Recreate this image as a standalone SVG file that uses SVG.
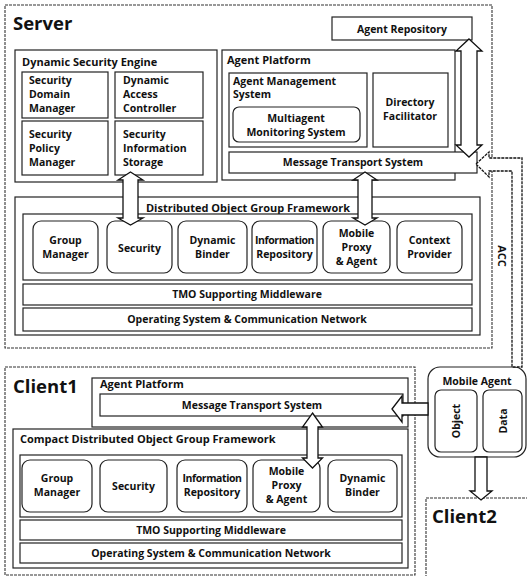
<svg xmlns="http://www.w3.org/2000/svg" width="527" height="576" viewBox="0 0 527 576">
<style>
.frame{fill:none;stroke:#333;stroke-width:1.1;stroke-dasharray:3 1}
.box{fill:#fff;stroke:#222;stroke-width:1.2}
.arr{fill:#fff;stroke:#111;stroke-width:1.3;stroke-linejoin:miter}
text{font-family:"Open Sans","Noto Sans","DejaVu Sans",sans-serif;font-weight:700;fill:#111}
.t{font-size:10.5px}
.tc{font-size:10.5px;text-anchor:middle}
.h{font-size:18.5px}
.lbl{font-size:11px}
</style>
<rect width="527" height="576" fill="#fff"/>

<g id="server">
<rect class="frame" x="5" y="5" width="487" height="343"/>
<text class="h" x="13" y="30">Server</text>
</g>

<g id="agent-repository">
<rect class="box" x="332" y="17" width="140" height="23"/>
<text class="tc" x="402" y="33">Agent Repository</text>
</g>

<g id="dynamic-security-engine">
<rect class="box" x="15" y="50" width="202" height="132"/>
<text class="lbl" x="22" y="66">Dynamic Security Engine</text>
<rect class="box" x="22" y="72" width="86" height="46"/>
<text class="t" x="29" y="84">Security</text><text class="t" x="29" y="98">Domain</text><text class="t" x="29" y="112">Manager</text>
<rect class="box" x="115" y="72" width="88" height="46"/>
<text class="t" x="123" y="84">Dynamic</text><text class="t" x="123" y="98">Access</text><text class="t" x="123" y="112">Controller</text>
<rect class="box" x="22" y="121" width="86" height="54"/>
<text class="t" x="29" y="138">Security</text><text class="t" x="29" y="152">Policy</text><text class="t" x="29" y="166">Manager</text>
<rect class="box" x="115" y="121" width="88" height="54"/>
<text class="t" x="123" y="138">Security</text><text class="t" x="123" y="152">Information</text><text class="t" x="123" y="166">Storage</text>
</g>

<g id="server-agent-platform">
<rect class="box" x="222" y="50" width="233" height="130"/>
<text class="lbl" x="227" y="64">Agent Platform</text>
<rect class="box" x="229" y="73" width="138" height="74"/>
<text class="t" x="233" y="85">Agent Management</text><text class="t" x="233" y="98">System</text>
<rect class="box" x="233" y="107" width="127" height="35" rx="6"/>
<text class="tc" x="296" y="122">Multiagent</text><text class="tc" x="296" y="136">Monitoring System</text>
<rect class="box" x="373" y="73" width="75" height="74"/>
<text class="tc" x="410" y="106">Directory</text><text class="tc" x="410" y="120">Facilitator</text>
<rect class="box" x="229" y="152" width="248" height="21"/>
<text class="tc" x="353" y="166">Message Transport System</text>
</g>

<g id="server-dogf">
<rect class="box" x="15" y="197" width="465" height="138"/>
<text class="lbl" x="248" y="212" text-anchor="middle">Distributed Object Group Framework</text>
<rect class="box" x="23" y="214" width="449" height="66"/>
<rect class="box" x="33" y="221" width="65" height="52" rx="8"/>
<text class="tc" x="65.5" y="244">Group</text><text class="tc" x="65.5" y="258">Manager</text>
<rect class="box" x="107" y="221" width="65" height="52" rx="8"/>
<text class="tc" x="139.5" y="252">Security</text>
<rect class="box" x="178" y="221" width="69" height="52" rx="8"/>
<text class="tc" x="212.5" y="244">Dynamic</text><text class="tc" x="212.5" y="258">Binder</text>
<rect class="box" x="252" y="221" width="65" height="52" rx="8"/>
<text class="tc" x="284.5" y="244" letter-spacing="-0.4">Information</text><text class="tc" x="284.5" y="258">Repository</text>
<rect class="box" x="323" y="221" width="67" height="52" rx="8"/>
<text class="tc" x="356.5" y="237">Mobile</text><text class="tc" x="356.5" y="251">Proxy</text><text class="tc" x="356.5" y="265">&amp; Agent</text>
<rect class="box" x="397" y="221" width="65" height="52" rx="8"/>
<text class="tc" x="429.5" y="244">Context</text><text class="tc" x="429.5" y="258">Provider</text>
<rect class="box" x="23" y="284" width="449" height="21"/>
<text class="tc" x="247" y="298">TMO Supporting Middleware</text>
<rect class="box" x="23" y="308" width="449" height="23"/>
<text class="tc" x="247" y="323">Operating System &amp; Communication Network</text>
</g>

<g id="client1">
<rect class="frame" x="5" y="367" width="410" height="208"/>
<text class="h" x="13" y="393">Client1</text>
<rect class="box" x="92" y="378" width="316" height="49"/>
<text class="lbl" x="100" y="388">Agent Platform</text>
<rect class="box" x="100" y="394" width="303" height="22"/>
<text class="tc" x="252" y="409">Message Transport System</text>
<rect class="box" x="13" y="429" width="395" height="139"/>
<text class="lbl" x="20" y="443">Compact Distributed Object Group Framework</text>
<rect class="box" x="20" y="455" width="382" height="62"/>
<rect class="box" x="22" y="460" width="70" height="52" rx="8"/>
<text class="tc" x="57" y="482">Group</text><text class="tc" x="57" y="496">Manager</text>
<rect class="box" x="100" y="460" width="67" height="52" rx="8"/>
<text class="tc" x="133.5" y="490">Security</text>
<rect class="box" x="177" y="460" width="70" height="52" rx="8"/>
<text class="tc" x="212" y="482" letter-spacing="-0.4">Information</text><text class="tc" x="212" y="496">Repository</text>
<rect class="box" x="253" y="460" width="67" height="52" rx="8"/>
<text class="tc" x="286.5" y="475">Mobile</text><text class="tc" x="286.5" y="489">Proxy</text><text class="tc" x="286.5" y="503">&amp; Agent</text>
<rect class="box" x="328" y="460" width="69" height="52" rx="8"/>
<text class="tc" x="362.5" y="482">Dynamic</text><text class="tc" x="362.5" y="496">Binder</text>
<rect class="box" x="20" y="520" width="382" height="20"/>
<text class="tc" x="211" y="534">TMO Supporting Middleware</text>
<rect class="box" x="20" y="543" width="382" height="20"/>
<text class="tc" x="211" y="557">Operating System &amp; Communication Network</text>
</g>

<g id="mobile-agent">
<rect class="box" x="428" y="367" width="98" height="90" rx="12"/>
<text class="tc" x="477" y="385">Mobile Agent</text>
<rect class="box" x="435" y="390" width="42" height="62" rx="6"/>
<text class="tc" transform="translate(460,421) rotate(-90)">Object</text>
<rect class="box" x="483" y="390" width="39" height="62" rx="6"/>
<text class="tc" transform="translate(507,421) rotate(-90)">Data</text>
</g>

<g id="client2">
<rect class="frame" x="426" y="498" width="104" height="82"/>
<text class="h" x="432" y="523">Client2</text>
</g>

<g id="connectors">
<polygon class="arr" points="130.5,172 143,180 138,180 138,218 143,218 130.5,225 118,218 123,218 123,180 118,180"/>
<polygon class="arr" points="365,172 377,180 372,180 372,218 377,218 365,225 353,218 358,218 358,180 353,180"/>
<polygon class="arr" points="469,39 482,51 477,51 477,145 482,145 469,157 456,145 461,145 461,51 456,51"/>
<polygon class="arr" points="312.5,413 322.5,427 318,427 318,458 322.5,458 312.5,468 302.5,458 307,458 307,427 302.5,427"/>
<polygon class="arr" points="392,409 402,396 402,403 428,403 428,415 402,415 402,422"/>
<polygon class="arr" points="481,500 492,491 487,491 487,457 475,457 475,491 470,491"/>
<path class="arr" d="M476,164 L489,152 L489,158 L522,158 L522,367 L512,367 L512,171 L489,171 L489,177 Z" stroke-dasharray="3 1"/>
<text font-size="11px" transform="translate(498,256) rotate(90)" text-anchor="middle">ACC</text>
</g>
</svg>
